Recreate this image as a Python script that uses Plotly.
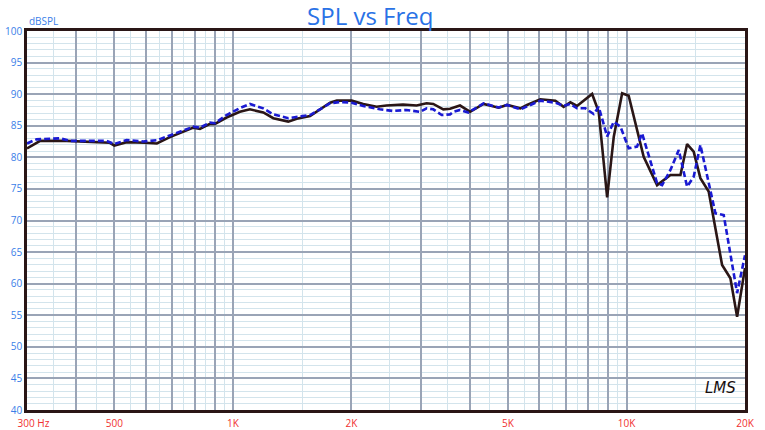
import plotly.graph_objects as go

# Solid (black) series
f_solid = [300, 324, 378, 487, 500, 537, 598, 641, 692, 794, 825, 875, 901, 964, 1042,
           1105, 1195, 1267, 1383, 1453, 1571, 1766, 1837, 2004, 2144, 2318, 2457, 2706,
           2930, 3106, 3229, 3425, 3562, 3777, 4008, 4334, 4733, 4972, 5374, 5588, 6041,
           6596, 6924, 7201, 7488, 8178, 8500, 8930, 9283, 9749, 10128, 11057, 11960,
           12930, 13711, 14253, 14814, 15407, 16173, 17492, 18364, 19097, 20000]
spl_solid = [81.4, 82.6, 82.6, 82.3, 81.85, 82.4, 82.3, 82.2, 83.2, 84.7, 84.5, 85.3, 85.3,
             86.3, 87.2, 87.6, 87.1, 86.2, 85.65, 86.1, 86.55, 88.65, 88.97, 88.97, 88.45,
             88.0, 88.2, 88.35, 88.2, 88.55, 88.45, 87.6, 87.7, 88.2, 87.2, 88.45, 87.86,
             88.29, 87.76, 88.29, 89.19, 88.97, 88.0, 88.7, 88.13, 90.03, 87.2, 73.67,
             83.27, 90.14, 89.76, 80.1, 75.6, 77.2, 77.2, 82.1, 80.9, 76.7, 74.6, 62.96,
             60.85, 54.77, 62.5]

# Dashed (blue) series
f_dash = [300, 317, 364, 386, 478, 500, 537, 592, 641, 692, 794, 825, 875, 901, 964, 1042,
          1105, 1195, 1267, 1383, 1571, 1766, 1871, 2004, 2144, 2363, 2553, 2760, 2988,
          3106, 3229, 3393, 3562, 3632, 3777, 3968, 4334, 4733, 4972, 5374, 5698, 6041,
          6596, 6924, 7201, 7488, 7862, 8255, 8500, 8930, 9283, 9653, 10128, 10637, 10953,
          11960, 12316, 12930, 13576, 14253, 14814, 15407, 16819, 17658, 19097, 20000]
spl_dash = [82.2, 82.85, 83.0, 82.6, 82.6, 82.1, 82.75, 82.5, 82.7, 83.5, 84.85, 84.7, 85.5,
            85.4, 86.7, 87.8, 88.45, 87.75, 86.8, 86.2, 86.7, 88.55, 88.76, 88.65, 88.13,
            87.6, 87.34, 87.5, 87.2, 87.76, 87.6, 86.7, 86.8, 87.2, 87.5, 87.1, 88.55, 87.9,
            88.29, 87.6, 88.29, 88.97, 88.65, 88.13, 88.45, 87.76, 87.76, 86.86, 88.0, 83.3,
            85.64, 84.85, 81.43, 81.7, 83.8, 75.9, 75.6, 78.0, 81.16, 75.35, 76.93, 81.96,
            71.14, 70.87, 58.5, 64.5]

# Axis ticks / grid
x_major = [300, 400, 500, 600, 700, 800, 900, 1000, 2000, 3000, 4000, 5000, 6000, 7000,
           8000, 9000, 10000, 20000]
x_labels = {300: "\u00a0\u00a0\u00a0\u00a0\u00a0300 Hz", 500: "500", 1000: "1K",
            2000: "2K", 5000: "5K", 10000: "10K", 20000: "20K"}
x_minor = [350, 450, 550, 650, 750, 850, 950, 1500, 2500, 3500, 4500, 5500, 6500, 7500,
           8500, 9500, 15000]
y_ticks = [40, 45, 50, 55, 60, 65, 70, 75, 80, 85, 90, 95, 100]

fig = go.Figure()
fig.add_trace(go.Scatter(x=f_solid, y=spl_solid, mode="lines",
                         line=dict(color="#2a1616", width=2.6), showlegend=False))
fig.add_trace(go.Scatter(x=f_dash, y=spl_dash, mode="lines",
                         line=dict(color="#1a1ad2", width=2.6, dash="6px,3px"),
                         showlegend=False))

fig.update_layout(
    width=765, height=430,
    margin=dict(l=27, r=20, t=31, b=20, autoexpand=False),
    paper_bgcolor="white", plot_bgcolor="white",
    font=dict(family="Open Sans, sans-serif"),
    title=dict(text="SPL vs Freq", x=0.484, xref="container", xanchor="center",
               y=0.962, yref="container", yanchor="middle",
               font=dict(size=24, color="#2a72e6", family="Open Sans, sans-serif")),
    xaxis=dict(type="log", range=[2.4771, 4.30103], automargin=False,
               tickmode="array", tickvals=x_major,
               ticktext=[x_labels.get(v, "") for v in x_major],
               tickfont=dict(size=10, color="#f03030"), ticklabelstandoff=2,
               ticks="", showgrid=True, gridcolor="#9aa4b6", gridwidth=1.5,
               minor=dict(tickmode="array", tickvals=x_minor, showgrid=True,
                          gridcolor="#d3e4ec", gridwidth=1, ticks=""),
               showline=True, mirror=True, linecolor="#2a1616", linewidth=2.5,
               zeroline=False),
    yaxis=dict(range=[40, 100], automargin=False, tickmode="array", tickvals=y_ticks,
               tickfont=dict(size=10, color="#3a7ee8"),
               ticks="", showgrid=True, gridcolor="#9aa4b6", gridwidth=1.5,
               minor=dict(dtick=1, showgrid=True, gridcolor="#d3e4ec", gridwidth=1, ticks=""),
               showline=True, mirror=True, linecolor="#2a1616", linewidth=2.5,
               zeroline=False),
)

fig.add_annotation(text="dBSPL", xref="paper", yref="paper", x=0, y=1, xanchor="left",
                   yanchor="bottom", yshift=1, showarrow=False,
                   font=dict(size=10, color="#3a7ee8"))
fig.add_annotation(text="<i>LMS</i>", xref="paper", yref="paper", x=0.99, y=0.03,
                   xanchor="right", yanchor="bottom", showarrow=False,
                   font=dict(size=15, color="#1a1010", family="DejaVu Sans"))

fig.write_html("out.html", config={"displayModeBar": False},
               post_script="document.body.style.margin='0';")
